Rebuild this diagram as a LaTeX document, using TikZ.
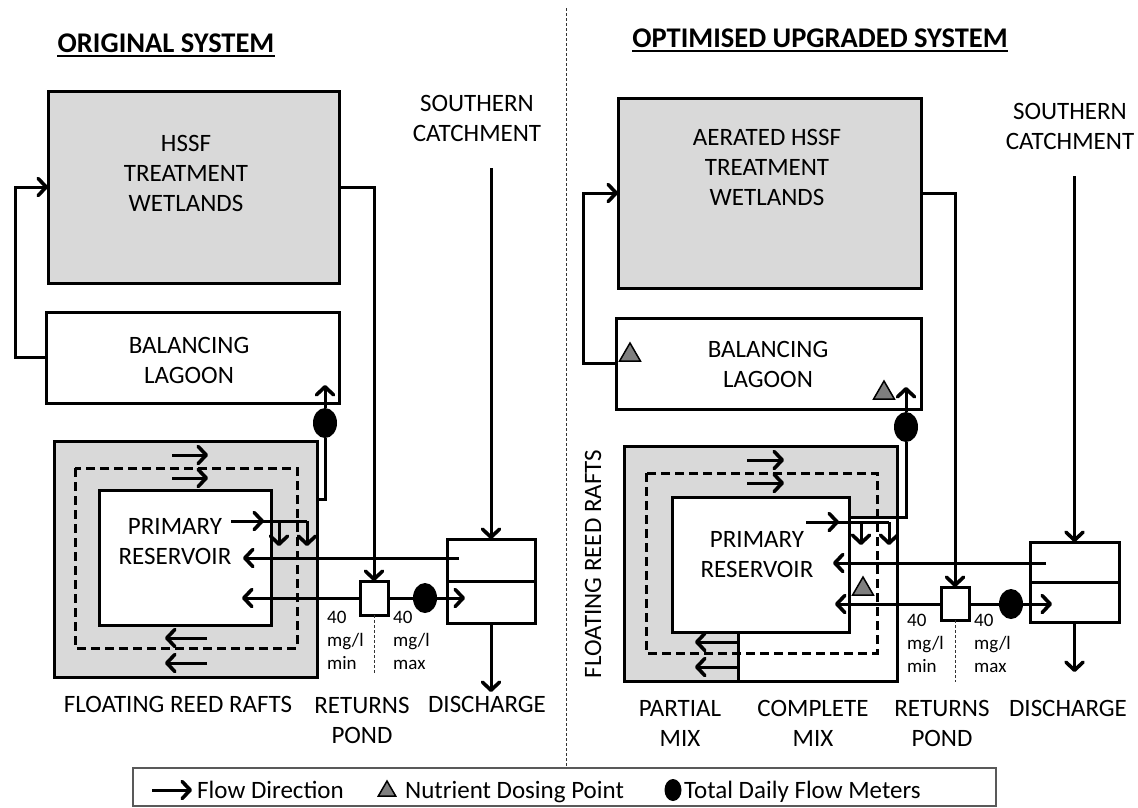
\documentclass[tikz,border=0pt]{standalone}
\usepackage{fontspec}
\setmainfont{Carlito}
\usetikzlibrary{arrows.meta,shapes.geometric,calc}
\definecolor{raftgray}{HTML}{D9D9D9}
\definecolor{dosegray}{HTML}{7F7F7F}
\newcommand\rbox[6]{\node[#6, minimum width={(#4-#2)*1pt}, minimum height={(#5-#3)*1pt}] (#1) at ({(#2+#4)/2},{(#3+#5)/2}) {};}
\tikzset{
  ln/.style={line width=3pt},
  flow/.style={ln,-{Straight Barb[length=8pt,width=17pt,line width=3.6pt,round]}},
  box/.style={draw,ln,rectangle,inner sep=0pt,outer sep=0pt},
  lbl/.style={font=\fontsize{25}{30}\selectfont, align=center, inner sep=0pt},
  small/.style={font=\fontsize{19}{23}\selectfont, align=left, inner sep=0pt, anchor=west},
  meter/.style={ellipse, fill=black, minimum width=24pt, minimum height=30pt, inner sep=0pt, outer sep=0pt},
  dose/.style={regular polygon, regular polygon sides=3, minimum size=24pt, fill=dosegray, draw=black, line width=1.5pt, inner sep=0pt},
  titlestyle/.style={font=\fontsize{28.5}{34}\selectfont\bfseries, inner sep=0pt},
  raftdash/.style={ln, dash pattern=on 9pt off 5pt},
  thindot/.style={line width=1pt, dash pattern=on 3pt off 2pt, black!80},
}
\begin{document}
\begin{tikzpicture}[x=1pt,y=-1pt]
\useasboundingbox (0,0) rectangle (1138,807);

% ---------------- divider ----------------
\coordinate (divTop) at (566,8);

% ---------------- LEFT: ORIGINAL SYSTEM ----------------
\node[titlestyle] (tL) at (166,43) {ORIGINAL SYSTEM};
\draw[line width=2pt] ([yshift=-3pt]tL.south west) -- ([yshift=-3pt]tL.south east);

\rbox{hssfL}{48}{91}{339}{283}{box,fill=raftgray}
\node[lbl] (hssfLt) at (186,173.5) {HSSF\\TREATMENT\\WETLANDS};
\rbox{lagL}{46}{312}{339}{403}{box,fill=white}
\node[lbl] (lagLt) at (189,360) {BALANCING\\LAGOON};
\node[lbl] (scL) at (477,118) {SOUTHERN\\CATCHMENT};

% rafts
\rbox{raftL}{54}{441}{317}{677}{box,fill=raftgray}
\draw[raftdash] (75,468) rectangle (297,648);
\rbox{resL}{99}{490}{271}{625}{box,fill=white}
\node[lbl] (resLt) at (175,542) {PRIMARY\\RESERVOIR};

% ponds and discharge
\rbox{pondL}{360}{581}{388}{615}{box,fill=white}
\rbox{disL}{447}{539}{535}{623}{box,fill=white}
\draw[ln] (disL.west) -- (disL.east);

% meters
\node[meter] (mL1) at (325,423) {};
\node[meter] (mL2) at (425,598) {};

% coordinates
\coordinate (LupTip) at (325,385);
\coordinate (Lbend) at (325,499);
\coordinate (LscTop) at (491,168);
\coordinate (LdisTip) at (491,692);
\coordinate (LoutS) at (231,521);
\coordinate (LoutE) at (307,521);
\coordinate (Ld1) at (279,546);
\coordinate (LretS) at (459,558);
\coordinate (LretT) at (243,558);
\coordinate (LlowT) at (242,598);
\coordinate (LdisIn) at (465,598);
\coordinate (Lta1) at (172,455);
\coordinate (Lta2) at (172,478);
\coordinate (Lba1) at (207,638);
\coordinate (Lba2) at (207,663);
\coordinate (LdotEnd) at (374,673);

% connectors
\draw[flow] (lagL.west) -- ++(-31,0) |- (hssfL.west);
\draw[flow] (hssfL.east) -| (pondL.north);
\draw[flow] (mL1.north) -- (LupTip);
\draw[ln] (mL1.south) -- (Lbend) -- (raftL.east |- Lbend);
\draw[flow] (LscTop) -- (disL.north);
\draw[flow] (disL.south) -- (LdisTip);
\draw[ln] (LoutS) -- (LoutE);
\draw[flow] (LoutS) -- ++(33,0);
\draw[flow] (Ld1 |- LoutE) -- (Ld1);
\draw[flow] (LoutE) -- (LoutE |- Ld1);
\draw[flow] (LretS) -- (LretT);
\draw[flow] (pondL.west |- LlowT) -- (LlowT);
\draw[ln] (pondL.east |- mL2) -- (mL2.west);
\draw[flow] (mL2.east) -- (LdisIn);
\draw[flow] (Lta1) -- ++(36,0);
\draw[flow] (Lta2) -- ++(36,0);
\draw[flow] (Lba1) -- ++(-42,0);
\draw[flow] (Lba2) -- ++(-42,0);
\draw[thindot] (pondL.south) -- (LdotEnd);

\node[small] (Lmin) at (327,640) {40\\mg/l\\min};
\node[small] (Lmax) at (393,640) {40\\mg/l\\max};
\node[lbl] (LfrrT) at (178,704) {FLOATING REED RAFTS};
\node[lbl] (LpondT) at (362,720) {RETURNS\\POND};
\node[lbl] (LdisT) at (487,704) {DISCHARGE};

% ---------------- RIGHT: OPTIMISED UPGRADED SYSTEM ----------------
\node[titlestyle] (tR) at (820,38) {OPTIMISED UPGRADED SYSTEM};
\draw[line width=2pt] ([yshift=-3pt]tR.south west) -- ([yshift=-3pt]tR.south east);

\rbox{hssfR}{618}{98}{921}{288}{box,fill=raftgray}
\node[lbl] (hssfRt) at (767,167) {AERATED HSSF\\TREATMENT\\WETLANDS};
\rbox{lagR}{616}{318}{921}{409}{box,fill=white}
\node[lbl] (lagRt) at (768,364.5) {BALANCING\\LAGOON};
\node[lbl] (scR) at (1070,126) {SOUTHERN\\CATCHMENT};

% rafts
\rbox{raftR}{624}{446}{897}{681}{fill=raftgray,inner sep=0pt,outer sep=0pt}
\fill[white] (672,497) -- (849,497) -- (849,517) -- (897,517) -- (897,681) -- (738,681) -- (738,632) -- (672,632) -- cycle;
\draw[ln] (raftR.south west) rectangle (raftR.north east);
\draw[raftdash] (646,473) rectangle (877,653);
\rbox{resR}{672}{497}{849}{632}{box}
\node[lbl] (resRt) at (757,554.5) {PRIMARY\\RESERVOIR};
\coordinate (Rpart) at (738,632);
\draw[ln] (Rpart) -- (Rpart |- raftR.south);
\node[lbl, rotate=90] (RfrrT) at (593,564) {FLOATING REED RAFTS};

% ponds and discharge
\rbox{pondR}{941}{587}{969}{620}{box,fill=white}
\rbox{disR}{1030}{542}{1119}{622}{box,fill=white}
\draw[ln] (disR.west) -- (disR.east);

% meters
\node[meter] (mR1) at (906,427) {};
\node[meter] (mR2) at (1011,604) {};

% dosing points
\node[dose] (dz1) at (630,355) {};
\node[dose] (dz2) at (884,393) {};
\node[dose] (dz3) at (863,589) {};

% coordinates
\coordinate (RupTip) at (906,387);
\coordinate (Rbend) at (906,517);
\coordinate (RscTop) at (1074.5,176);
\coordinate (RdisTip) at (1074.5,672);
\coordinate (RoutS) at (806,522);
\coordinate (RoutE) at (889,522);
\coordinate (Rd1) at (861,545);
\coordinate (RretS) at (1046,563);
\coordinate (RretT) at (833,563);
\coordinate (RlowT) at (835,604);
\coordinate (RdisIn) at (1052,604);
\coordinate (Rta1) at (747,460);
\coordinate (Rta2) at (747,483);
\coordinate (Rba1) at (738,642);
\coordinate (Rba2) at (738,667);
\coordinate (RdotEnd) at (955,682);

% connectors
\draw[flow] (lagR.west) -- ++(-33,0) |- (hssfR.west);
\draw[flow] (hssfR.east) -| (pondR.north);
\draw[flow] (mR1.north) -- (RupTip);
\draw[ln] (mR1.south) -- (Rbend) -- (resR.east |- Rbend);
\draw[flow] (RscTop) -- (disR.north);
\draw[flow] (disR.south) -- (RdisTip);
\draw[ln] (RoutS) -- (RoutE);
\draw[flow] (RoutS) -- ++(33,0);
\draw[flow] (Rd1 |- RoutE) -- (Rd1);
\draw[flow] (RoutE) -- (RoutE |- Rd1);
\draw[flow] (RretS) -- (RretT);
\draw[flow] (pondR.west |- RlowT) -- (RlowT);
\draw[ln] (pondR.east |- mR2) -- (mR2.west);
\draw[flow] (mR2.east) -- (RdisIn);
\draw[flow] (Rta1) -- ++(37,0);
\draw[flow] (Rta2) -- ++(37,0);
\draw[flow] (Rba1) -- ++(-43,0);
\draw[flow] (Rba2) -- ++(-43,0);
\draw[thindot] (pondR.south) -- (RdotEnd);

\node[small] (Rmin) at (907,643.5) {40\\mg/l\\min};
\node[small] (Rmax) at (974,643.5) {40\\mg/l\\max};
\node[lbl] (RpartT) at (680,723) {PARTIAL\\MIX};
\node[lbl] (RcompT) at (813,723) {COMPLETE\\MIX};
\node[lbl] (RpondT) at (942,723) {RETURNS\\POND};
\node[lbl] (RdisT) at (1068,708) {DISCHARGE};

% ---------------- legend ----------------
\rbox{legend}{133}{768}{996}{806}{draw=black!65,line width=1.5pt,inner sep=0pt,outer sep=0pt}
\draw[thindot] (divTop) -- (divTop |- legend.north);
\coordinate (legA) at (152,790);
\draw[flow] (legA) -- ++(40,0);
\node[lbl, anchor=base west] (legAt) at (197,798) {Flow Direction};
\node[dose, minimum size=20pt] (legT) at (387,791) {};
\node[lbl, anchor=base west] (legTt) at (405,798) {Nutrient Dosing Point};
\node[meter, minimum width=17pt, minimum height=22pt] (legM) at (673,790) {};
\node[lbl, anchor=base west] (legMt) at (684,798) {Total Daily Flow Meters};
\end{tikzpicture}
\end{document}
